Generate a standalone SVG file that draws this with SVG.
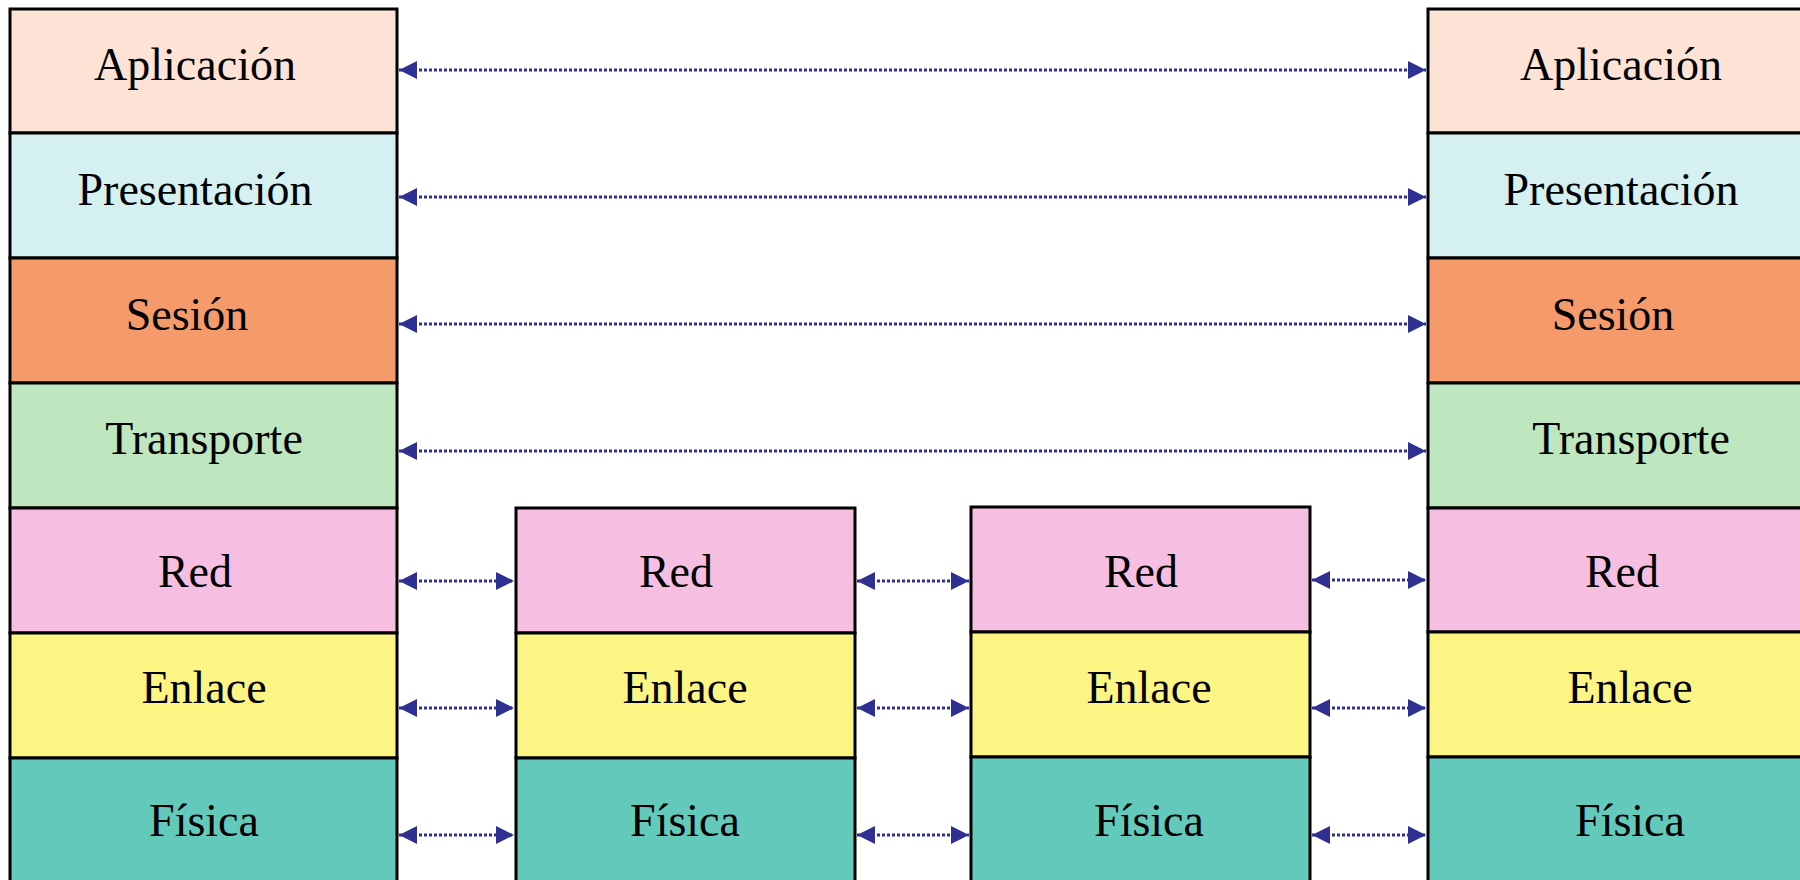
<svg xmlns="http://www.w3.org/2000/svg" width="1800" height="880" viewBox="0 0 1800 880">
<defs>
<style>
.l{stroke:#000;stroke-width:3}
.t{font-family:"Liberation Serif","Times New Roman",serif;font-size:46px;fill:#000;text-anchor:middle}
.ap{fill:#FDE3D5}.pr{fill:#D5F0F0}.se{fill:#F59A6A}.tr{fill:#BEE6BF}.re{fill:#F6BEE1}.en{fill:#FCF584}.fi{fill:#62C9BB}
.c{stroke:#2E3192;stroke-width:3;stroke-dasharray:3 2;fill:none;marker-start:url(#ah);marker-end:url(#ah)}
</style>
<marker id="ah" markerUnits="userSpaceOnUse" markerWidth="18" markerHeight="18" refX="18" refY="9" orient="auto-start-reverse" viewBox="0 0 18 18">
<path d="M0,0 L18,9 L0,18 Z" fill="#2E3192"/>
</marker>
</defs>
<rect width="1800" height="880" fill="#fff"/>

<g id="host-a">
<g id="a-aplicacion"><rect class="l ap" x="10" y="9" width="387" height="124"/><text class="t" x="195" y="80">Aplicación</text></g>
<g id="a-presentacion"><rect class="l pr" x="10" y="133" width="387" height="125"/><text class="t" x="195" y="205">Presentación</text></g>
<g id="a-sesion"><rect class="l se" x="10" y="258" width="387" height="125"/><text class="t" x="187" y="330">Sesión</text></g>
<g id="a-transporte"><rect class="l tr" x="10" y="383" width="387" height="125"/><text class="t" x="204" y="454">Transporte</text></g>
<g id="a-red"><rect class="l re" x="10" y="508" width="387" height="125"/><text class="t" x="195" y="587">Red</text></g>
<g id="a-enlace"><rect class="l en" x="10" y="633" width="387" height="125"/><text class="t" x="204" y="703">Enlace</text></g>
<g id="a-fisica"><rect class="l fi" x="10" y="758" width="387" height="135"/><text class="t" x="204" y="836">Física</text></g>
</g>

<g id="router-1">
<g id="r1-red"><rect class="l re" x="516" y="508" width="339" height="125"/><text class="t" x="676" y="587">Red</text></g>
<g id="r1-enlace"><rect class="l en" x="516" y="633" width="339" height="125"/><text class="t" x="685" y="703">Enlace</text></g>
<g id="r1-fisica"><rect class="l fi" x="516" y="758" width="339" height="135"/><text class="t" x="685" y="836">Física</text></g>
</g>

<g id="router-2">
<g id="r2-red"><rect class="l re" x="971" y="507" width="339" height="125"/><text class="t" x="1141" y="587">Red</text></g>
<g id="r2-enlace"><rect class="l en" x="971" y="632" width="339" height="125"/><text class="t" x="1149" y="703">Enlace</text></g>
<g id="r2-fisica"><rect class="l fi" x="971" y="757" width="339" height="136"/><text class="t" x="1149" y="836">Física</text></g>
</g>

<g id="host-b">
<g id="b-aplicacion"><rect class="l ap" x="1428" y="9" width="390" height="124"/><text class="t" x="1621" y="80">Aplicación</text></g>
<g id="b-presentacion"><rect class="l pr" x="1428" y="133" width="390" height="125"/><text class="t" x="1621" y="205">Presentación</text></g>
<g id="b-sesion"><rect class="l se" x="1428" y="258" width="390" height="125"/><text class="t" x="1613" y="330">Sesión</text></g>
<g id="b-transporte"><rect class="l tr" x="1428" y="383" width="390" height="125"/><text class="t" x="1631" y="454">Transporte</text></g>
<g id="b-red"><rect class="l re" x="1428" y="508" width="390" height="124"/><text class="t" x="1622" y="587">Red</text></g>
<g id="b-enlace"><rect class="l en" x="1428" y="632" width="390" height="125"/><text class="t" x="1630" y="703">Enlace</text></g>
<g id="b-fisica"><rect class="l fi" x="1428" y="757" width="390" height="136"/><text class="t" x="1630" y="836">Física</text></g>
</g>

<g id="connectors">
<line class="c" x1="399" y1="70" x2="1426" y2="70"/>
<line class="c" x1="399" y1="197" x2="1426" y2="197"/>
<line class="c" x1="399" y1="324" x2="1426" y2="324"/>
<line class="c" x1="399" y1="451" x2="1426" y2="451"/>
<line class="c" x1="399" y1="581" x2="514" y2="581"/>
<line class="c" x1="399" y1="708" x2="514" y2="708"/>
<line class="c" x1="399" y1="835" x2="514" y2="835"/>
<line class="c" x1="857" y1="581" x2="969" y2="581"/>
<line class="c" x1="857" y1="708" x2="969" y2="708"/>
<line class="c" x1="857" y1="835" x2="969" y2="835"/>
<line class="c" x1="1312" y1="580" x2="1426" y2="580"/>
<line class="c" x1="1312" y1="708" x2="1426" y2="708"/>
<line class="c" x1="1312" y1="835" x2="1426" y2="835"/>
</g>
</svg>
